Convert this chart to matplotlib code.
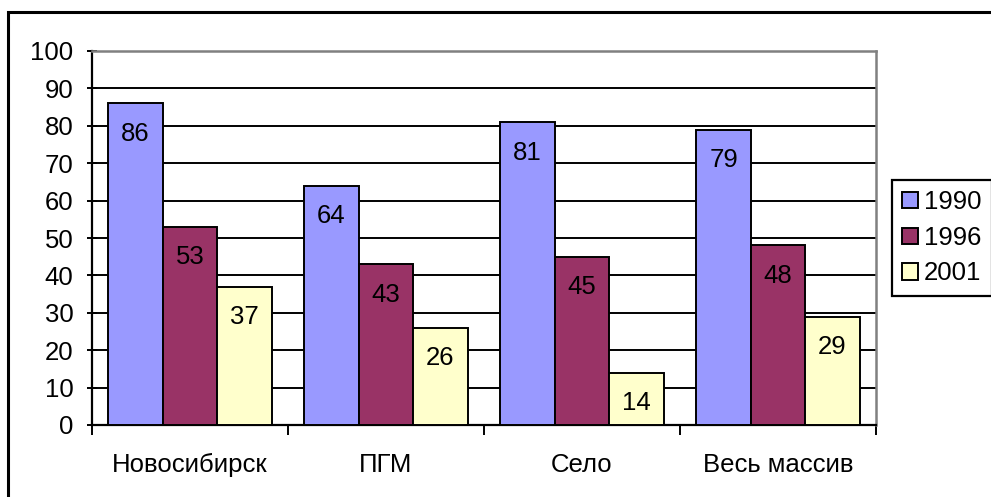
import numpy as np
import matplotlib
matplotlib.use("Agg")
import matplotlib.pyplot as plt
from matplotlib.patches import Rectangle

plt.rcParams['font.family'] = ['Liberation Sans', 'DejaVu Sans']

categories = ['Новосибирск', 'ПГМ', 'Село', 'Весь массив']
years = ['1990', '1996', '2001']
v1990 = [86, 64, 81, 79]
v1996 = [53, 43, 45, 48]
v2001 = [37, 26, 14, 29]
colors = ['#9999FF', '#993366', '#FFFFCC']
fs = 18.5

fig = plt.figure(figsize=(9.91, 4.97), dpi=100)
ax = fig.add_axes([92/991, 1-425/497, (876-92)/991, (425-51)/497])

# outer chart border (right/bottom edges fall outside the picture)
fig.patches.append(Rectangle((8/991, -0.1), 1.1, 1-12/497+0.1, transform=fig.transFigure,
                             fill=False, edgecolor='black', linewidth=2.2))

x = np.arange(len(categories))
w = 0.278
for k, (vals, c, lab) in enumerate(zip([v1990, v1996, v2001], colors, years)):
    bars = ax.bar(x + (k - 1) * w, vals, width=w, color=c, edgecolor='black',
                  linewidth=1.4, label=lab, zorder=3)
    for b, v in zip(bars, vals):
        ax.annotate(str(v), (b.get_x() + b.get_width() / 2, v), xytext=(0, -22),
                    textcoords='offset points', ha='center', va='center',
                    fontsize=fs, zorder=4)

ax.set_xlim(-0.5, len(categories) - 0.5)
ax.set_ylim(0, 100)
ax.set_yticks(np.arange(0, 101, 10))
ax.set_xticks(x)
ax.set_xticklabels(categories)
ax.set_xticks(np.arange(-0.5, len(categories)), minor=True)
ax.tick_params(axis='x', which='major', length=0, pad=20, labelsize=fs)
ax.tick_params(axis='x', which='minor', length=7, width=1.4, direction='out')
ax.tick_params(axis='y', length=6.5, width=1.4, direction='inout', pad=10, labelsize=fs)
ax.yaxis.grid(True, color='black', linewidth=1.4, zorder=0)
ax.set_axisbelow(True)

for s in ['left', 'bottom']:
    ax.spines[s].set_linewidth(1.6)
    ax.spines[s].set_color('black')
for s in ['top', 'right']:
    ax.spines[s].set_linewidth(1.8)
    ax.spines[s].set_color('#808080')

leg = fig.legend(loc='upper left', bbox_to_anchor=(892/991, 1-180/497),
                 bbox_transform=fig.transFigure, borderaxespad=0, fontsize=fs,
                 fancybox=False, edgecolor='black', framealpha=1,
                 handlelength=0.6, handleheight=0.6, handletextpad=0.25,
                 labelspacing=0.45, borderpad=0.4)
leg.get_frame().set_linewidth(1.6)

fig.savefig('out.png', dpi=100)
